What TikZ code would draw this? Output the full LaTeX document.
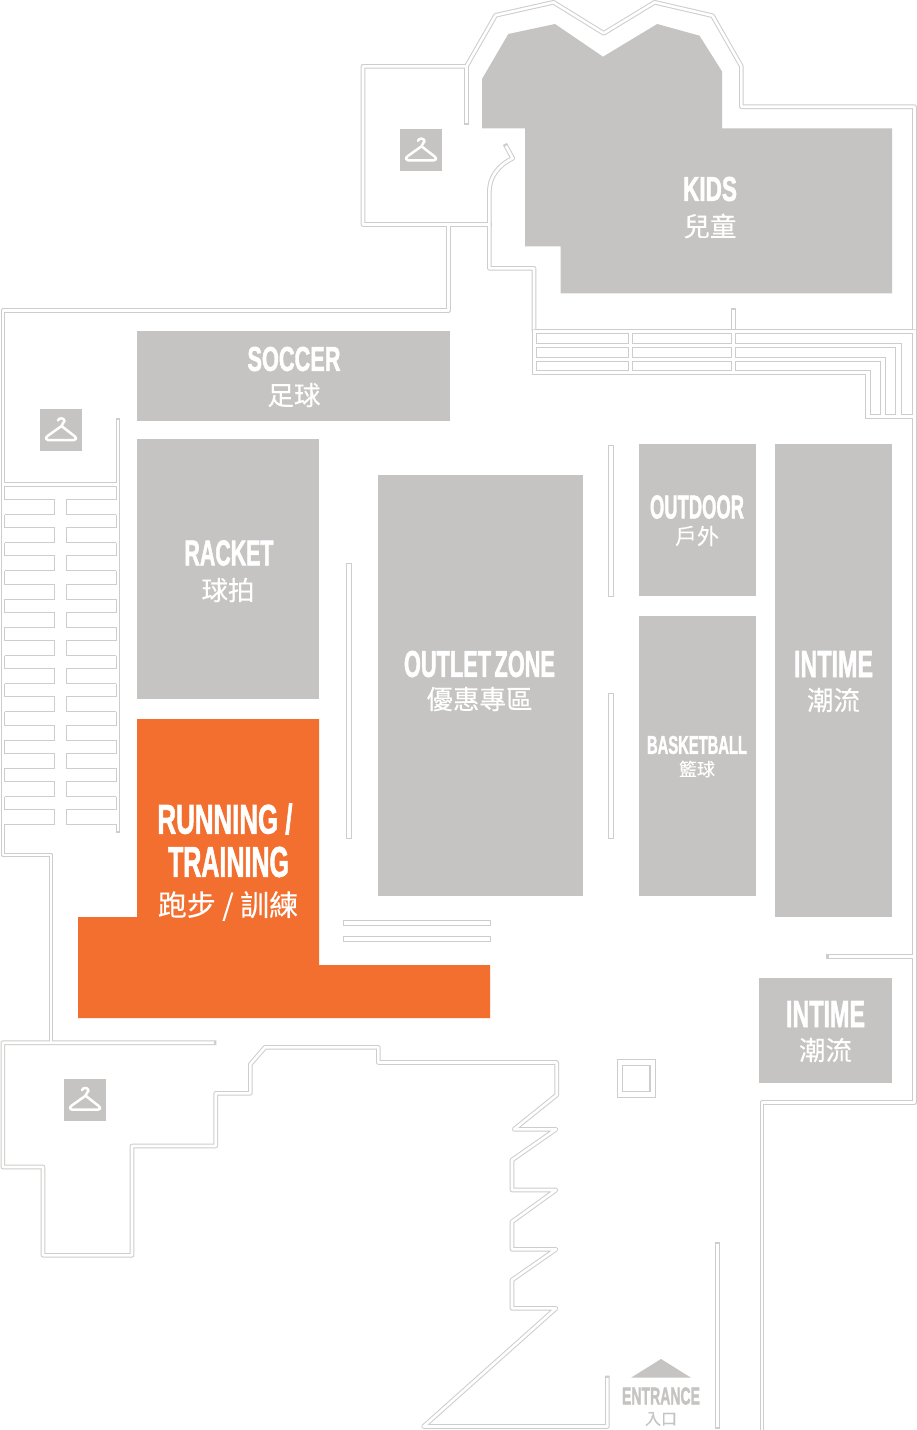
\documentclass[tikz,border=0pt]{standalone}
\usepackage{graphicx}
\usepackage{fontspec}
\setmainfont[BoldFeatures={FakeBold=2}]{Liberation Sans}
\newfontfamily\cjk[FakeBold=0.25]{Noto Sans CJK TC}
\definecolor{roomgray}{HTML}{C5C4C2}
\definecolor{linegray}{HTML}{CDCDCB}
\definecolor{runorange}{HTML}{F36F2F}
\tikzset{
  wallout/.style={draw=linegray,line width=4.6pt,line join=round,line cap=rect},
  wallin/.style={draw=white,line width=2.6pt,line join=round,line cap=butt},
  thinline/.style={draw=linegray,line width=1pt,line join=miter},
  room/.style={fill=roomgray},
  lbl/.style={inner sep=0pt,text=white,anchor=center},
  lblgray/.style={inner sep=0pt,text=roomgray,anchor=center}
}
\newcommand\caps[3]{\resizebox{#1pt}{#2pt}{\bfseries #3}}
\newcommand\han[2]{\fontsize{#1}{#1}\selectfont\cjk #2}
\newcommand\hangerbox[2]{%
  \begin{scope}[shift={(#1,#2)}]
    \fill[room] (0,0) rectangle (42,42);
    \draw[white,line width=2.5pt,line cap=round,line join=round]
      (18,11.5) .. controls (18.5,8.5) and (24.5,8.5) .. (24.5,12)
      .. controls (24.5,14) and (21.5,14) .. (21.5,17) -- (7.5,27)
      .. controls (5,29) and (6,31) .. (8,31) -- (34,31)
      .. controls (36.5,31) and (37,29) .. (35,27.5) -- (21.5,17);
  \end{scope}}
\newcommand\wallnet[1]{%
  \draw[#1] (51,1042.7)--(51,855)--(2.8,855)--(2.8,310.7)--(448.3,310.7)--(448.3,224.5);
  \draw[#1] (489.3,224.5)--(363,224.5)--(363,66.3)--(466.4,66.3)--(495.6,15.3)--(553.5,2.3)--(603.7,33.3)--(654.7,2.3)--(712.5,15.7)--(741.4,66.3)--(741.4,106.7)--(914.5,106.7)--(914.5,329.3);
  \draw[#1] (466.4,123)--(466.4,66.3);
  \draw[#1] (506,146)--(512.7,158.3) .. controls (497,166) and (489.3,178) .. (489.3,192)--(489.3,268.3)--(534,268.3)--(534,329.3);
  \draw[#1] (733.3,310)--(733.3,329.3);
  \draw[#1] (914.5,418.3)--(914.5,1102.7)--(762,1102.7)--(762,1434);
  \draw[#1] (828.5,956.7)--(914.5,956.7);
  \draw[#1] (118,420)--(118,831);
  \draw[#1] (214,1042.7)--(2.8,1042.7)--(2.8,1167)--(43,1167)--(43,1255.3)--(132,1255.3)--(132,1146)--(215.7,1146)--(215.7,1093.3)--(250.3,1093.3)--(250.3,1064.3)--(265,1047.3)--(378.3,1047.3)--(378.3,1062.5)--(556.7,1062.5)--(556.7,1095)--(514,1129.3)--(556,1129.3)--(512,1160)--(512,1190)--(556,1190)--(512,1221.7)--(512,1249.3)--(556,1249.3)--(512,1280)--(512,1308.3)--(556,1308.3)--(423.5,1426.5)--(607.3,1426.5)--(607.3,1378);
  \draw[#1] (717.7,1244)--(717.7,1427);
}
\begin{document}
\begin{tikzpicture}[x=1pt,y=-1pt]
\useasboundingbox (0,0) rectangle (917,1430);
\fill[white] (0,0) rectangle (917,1430);
% rooms
\fill[room] (482,79)--(508.3,34)--(555,24)--(603,56.7)--(657.2,24)--(699.5,35.7)--(722.2,71.7)--(722.2,128.3)--(892,128.3)--(892,293.3)--(560.7,293.3)--(560.7,246.3)--(525,246.3)--(525,128.3)--(482,128.3)--cycle;
\fill[room] (137,331) rectangle (450,421);
\fill[room] (137,439) rectangle (319,699);
\fill[room] (378,475) rectangle (583,896);
\fill[room] (639,444) rectangle (756,596);
\fill[room] (639,616) rectangle (756,896);
\fill[room] (775,444) rectangle (892,917);
\fill[room] (759,978) rectangle (892,1083);
\fill[runorange] (137,719)--(319,719)--(319,965)--(490,965)--(490,1018)--(78,1018)--(78,917)--(137,917)--cycle;
\hangerbox{400}{129.3}
\hangerbox{40}{409}
\hangerbox{64}{1078.7}
% walls
\wallnet{wallout}
\wallnet{wallin}
% free-standing walls
\draw[thinline] (346,563) rectangle (351.2,838);
\draw[thinline] (608,445.5) rectangle (613.2,596);
\draw[thinline] (608,693) rectangle (613.2,838);
\draw[thinline] (343.8,920.5) rectangle (490,925.5);
\draw[thinline] (343.8,936.5) rectangle (490,941.5);
% column
\draw[linegray,line width=1pt] (617,1059.5) rectangle (655,1097.5);
\draw[linegray,line width=1.6pt] (622.5,1065.5) rectangle (650,1091.5);
% patches where walls open into the stair bands
\fill[white] (532.6,329.9) rectangle (537,332.2);
\fill[white] (730.8,329.9) rectangle (735.9,332.2);
\fill[white] (911.9,329.9) rectangle (915.8,332.2);
\fill[white] (911.9,415.7) rectangle (915.8,418.8);
\fill[white] (4.0,482.9) rectangle (5.3,824.4);
\fill[white] (115.4,482.9) rectangle (116.8,824.4);
% upper stair band
\draw[thinline] (532,331)--(532,374)--(865,374)--(865,418.3)--(912.7,418.3);
\draw[thinline] (536,329.3)--(730.9,329.3) (735.7,329.3)--(912.7,329.3);
\draw[thinline] (916.3,329)--(916.3,418.5);
\foreach \ya/\yb in {333.3/343.3,347.3/357.3,361.3/370.7}{
  \draw[thinline] (536,\ya) rectangle (628.3,\yb);
  \draw[thinline] (632,\ya) rectangle (731.3,\yb);
}
\draw[thinline] (735.3,333.3)--(912.7,333.3)--(912.7,414.3)--(901,414.3)--(901,343.3)--(735.3,343.3)--cycle;
\draw[thinline] (735.3,347.3)--(895.7,347.3)--(895.7,414.3)--(885.7,414.3)--(885.7,357.3)--(735.3,357.3)--cycle;
\draw[thinline] (735.3,361.3)--(880.7,361.3)--(880.7,414.3)--(870.3,414.3)--(870.3,370.7)--(735.3,370.7)--cycle;
% left stair band
\draw[thinline] (4.6,482.3)--(116.2,482.3);
\draw[thinline] (4.6,486.3)--(116.2,486.3);
\foreach \k in {0,...,11}{
  \pgfmathsetmacro\ya{486.3+28.2*\k}
  \pgfmathsetmacro\yb{\ya+13.2}
  \pgfmathsetmacro\yc{\ya+28.2}
  \draw[thinline] (4.6,\ya)--(4.6,\yb)--(54.5,\yb)--(54.5,\yc)--(4.6,\yc);
  \draw[thinline] (116.2,\ya)--(116.2,\yb)--(66,\yb)--(66,\yc)--(116.2,\yc);
}
% entrance arrow
\fill[room] (661,1359)--(691,1377.7)--(631,1377.7)--cycle;
% labels
\node[lbl] (kids) at (710,189) {\caps{54}{24}{KIDS}};
\node[lbl] (kidsh) at (710,226) {\han{26.5}{兒童}};
\node[lbl] (soccer) at (294,359) {\caps{93}{24}{SOCCER}};
\node[lbl] (soccerh) at (294,395) {\han{26.5}{足球}};
\node[lbl] (racket) at (229,553) {\caps{89}{25}{RACKET}};
\node[lbl] (racketh) at (228,590) {\han{26.5}{球拍}};
\node[lbl] (outlet) at (479.5,664) {\caps{151}{26}{OUTLET\kern-0.12em\ ZONE}};
\node[lbl] (outleth) at (479.5,699) {\han{26.5}{優惠專區}};
\node[lbl] (outdoor) at (697,507) {\caps{94}{23}{OUTDOOR}};
\node[lbl] (outdoorh) at (697,536) {\han{22}{戶外}};
\node[lbl] (basket) at (697,745) {\caps{100}{18}{BASKETBALL}};
\node[lbl] (basketh) at (697,769) {\han{18}{籃球}};
\node[lbl] (intime) at (833.5,664) {\caps{79}{26}{INTIME}};
\node[lbl] (intimeh) at (833.5,700) {\han{26.5}{潮流}};
\node[lbl] (intimeb) at (825.5,1014) {\caps{79}{26}{INTIME}};
\node[lbl] (intimebh) at (825.5,1050) {\han{26.5}{潮流}};
\node[lbl] (running) at (225,819) {\caps{135}{30}{RUNNING /}};
\node[lbl] (training) at (228.5,862) {\caps{121}{30}{TRAINING}};
\node[lbl] (runh) at (228,906) {\han{29}{跑步 / 訓練}};
\node[lblgray] (entrance) at (661,1396) {\caps{78}{17}{ENTRANCE}};
\node[lblgray] (entranceh) at (661,1419) {\han{16}{入口}};
\end{tikzpicture}
\end{document}
